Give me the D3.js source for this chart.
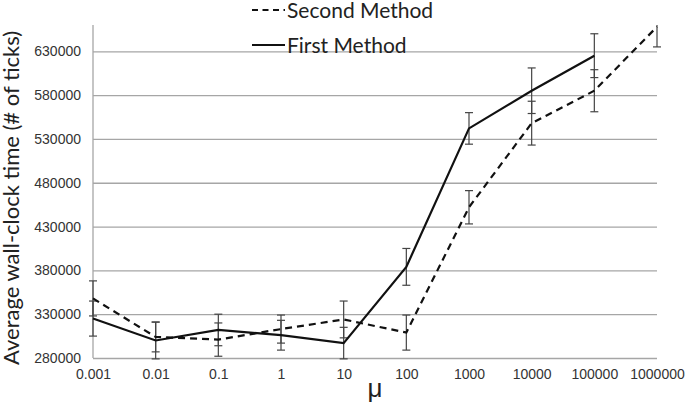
<!DOCTYPE html>
<html>
<head>
<meta charset="utf-8">
<script src="https://cdn.jsdelivr.net/npm/d3@7"></script>
<style>
  body { margin: 0; background: #fff; }
  svg { display: block; }
</style>
</head>
<body>
<div id="chart"></div>
<script>
// Variables
var width = 685;
var height = 409;
var margin = { left: 93, right: 28, top: 25, bottom: 51 };

// Data
var muLabels = ['0.001', '0.01', '0.1', '1', '10', '100', '1000', '10000', '100000', '1000000'];
var firstMethod = [325000, 300000, 312000, 306000, 297000, 384000, 542000, 585000, 625000, null];
var firstErr = [20000, 21000, 18000, 17000, 18000, 21000, 18000, 26000, 25000, null];
var secondMethod = [348000, 304000, 301000, 313000, 324000, 309000, 452000, 548000, 585000, 658000];
var secondErr = [20000, 17000, 19000, 16000, 21000, 20000, 19000, 25000, 24000, 23000];
var yTicks = [280000, 330000, 380000, 430000, 480000, 530000, 580000, 630000];

var svg = d3.select('#chart').append('svg')
    .attr('width', width)
    .attr('height', height);

var x = d3.scalePoint()
    .domain(muLabels)
    .range([margin.left, width - margin.right])
    .padding(0);

var y = d3.scaleLinear()
    .domain([280000, 660000])
    .range([height - margin.bottom, margin.top]);

// clip for the plot area
svg.append('clipPath').attr('id', 'plot')
  .append('rect')
    .attr('x', 0)
    .attr('y', margin.top)
    .attr('width', width)
    .attr('height', height - margin.bottom - margin.top + 2);

// grid lines + y labels
var yAxis = svg.append('g')
    .attr('transform', 'translate(' + margin.left + ',0)')
    .call(d3.axisLeft(y)
      .tickValues(yTicks)
      .tickFormat(d3.format('d'))
      .tickSize(-(width - margin.right - margin.left))
      .tickPadding(12));
yAxis.select('.domain').remove();
yAxis.selectAll('line').attr('stroke', '#a6a6a6').attr('stroke-width', 1.3);
yAxis.selectAll('text')
    .attr('fill', '#333')
    .style('font-family', 'Liberation Sans, Arial, sans-serif')
    .style('font-size', '14px');

// vertical axis line
svg.append('line')
    .attr('x1', margin.left).attr('x2', margin.left)
    .attr('y1', margin.top).attr('y2', y(280000))
    .attr('stroke', '#a6a6a6').attr('stroke-width', 1.3);

// x labels
var xAxis = svg.append('g')
    .attr('transform', 'translate(0,' + y(280000) + ')')
    .call(d3.axisBottom(x).tickSize(0).tickPadding(11));
xAxis.select('.domain').remove();
xAxis.selectAll('text')
    .attr('fill', '#333')
    .style('font-family', 'Liberation Sans, Arial, sans-serif')
    .style('font-size', '14px');

// error bars
function errorBars(values, errs) {
  var rows = muLabels.map(function(m, i) {
    return { m: m, v: values[i], e: errs[i] };
  }).filter(function(d) { return d.v != null; });

  var g = svg.append('g')
      .attr('clip-path', 'url(#plot)')
      .attr('stroke', '#444')
      .attr('stroke-width', 1.2);
  var bar = g.selectAll('g').data(rows).enter().append('g');
  bar.append('line')
      .attr('x1', function(d) { return x(d.m); })
      .attr('x2', function(d) { return x(d.m); })
      .attr('y1', function(d) { return y(d.v + d.e); })
      .attr('y2', function(d) { return y(d.v - d.e); });
  [1, -1].forEach(function(s) {
    bar.append('line')
        .attr('x1', function(d) { return x(d.m) - 4; })
        .attr('x2', function(d) { return x(d.m) + 4; })
        .attr('y1', function(d) { return y(d.v + s * d.e); })
        .attr('y2', function(d) { return y(d.v + s * d.e); });
  });
}
errorBars(secondMethod, secondErr);
errorBars(firstMethod, firstErr);

var line = d3.line()
    .defined(function(d) { return d[1] != null; })
    .x(function(d) { return x(d[0]); })
    .y(function(d) { return y(d[1]); });

svg.append('path')
    .datum(d3.zip(muLabels, secondMethod))
    .attr('d', line)
    .attr('fill', 'none')
    .attr('stroke', '#111')
    .attr('stroke-width', 2.2)
    .attr('stroke-dasharray', '7,5');

svg.append('path')
    .datum(d3.zip(muLabels, firstMethod))
    .attr('d', line)
    .attr('fill', 'none')
    .attr('stroke', '#111')
    .attr('stroke-width', 2.2);

// legend
var legendFont = 'Lato, Liberation Sans, sans-serif';
svg.append('line')
    .attr('x1', 252).attr('x2', 285).attr('y1', 10).attr('y2', 10)
    .attr('stroke', '#111').attr('stroke-width', 2)
    .attr('stroke-dasharray', '6,4.5');
svg.append('text')
    .attr('x', 287).attr('y', 18)
    .attr('fill', '#222')
    .style('font-family', legendFont)
    .style('font-size', '21px')
    .text('Second Method');
svg.append('line')
    .attr('x1', 252).attr('x2', 285).attr('y1', 45).attr('y2', 45)
    .attr('stroke', '#111').attr('stroke-width', 2);
svg.append('text')
    .attr('x', 287).attr('y', 53)
    .attr('fill', '#222')
    .style('font-family', legendFont)
    .style('font-size', '21px')
    .text('First Method');

// axis titles
svg.append('text')
    .attr('transform', 'translate(19,' + 198 + ')rotate(-90)')
    .attr('text-anchor', 'middle')
    .attr('fill', '#222')
    .style('font-family', legendFont)
    .style('font-size', '22px')
    .text('Average wall-clock time (# of ticks)');

svg.append('text')
    .attr('x', 375).attr('y', 397)
    .attr('text-anchor', 'middle')
    .attr('fill', '#222')
    .style('font-family', 'Liberation Sans, Arial, sans-serif')
    .style('font-size', '26px')
    .text('μ');
</script>
</body>
</html>
